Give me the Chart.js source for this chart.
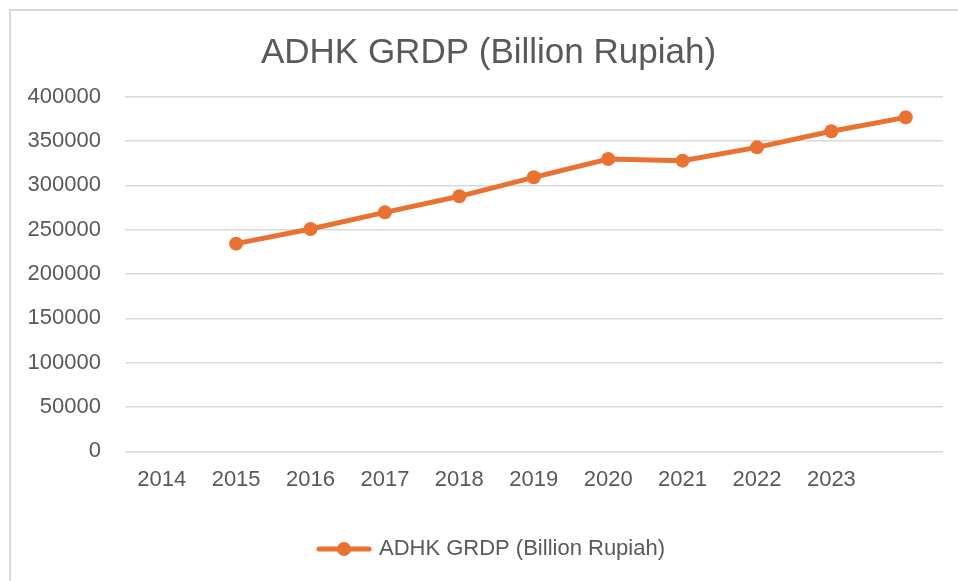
<!DOCTYPE html>
<html>
<head>
<meta charset="utf-8">
<style>
  html, body { margin: 0; padding: 0; background: #fff; overflow: hidden; }
  #frame { position: absolute; left: 9px; top: 9px; width: 1100px; height: 1100px;
           border-left: 2px solid #d9d9d9; border-top: 2px solid #d9d9d9; }
  #wrap { position: absolute; left: 0; top: 0; width: 958px; height: 581px; }
</style>
</head>
<body>
<div id="frame"></div>
<div id="wrap">
  <canvas id="grdp"></canvas>
</div>

<script src="https://cdn.jsdelivr.net/npm/chart.js"></script>

<script>
  // categories as they appear on the axis (the last slot has no label)
  const years = ['2014', '2015', '2016', '2017', '2018', '2019', '2020', '2021', '2022', '2023', ''];
  // ADHK GRDP values, billion rupiah (first slot is empty)
  const grdp = [null, 234200, 250800, 269500, 287600, 309000, 329700, 327800, 342800, 360900, 376600];
  const yTicks = [0, 50000, 100000, 150000, 200000, 250000, 300000, 350000, 400000];

  const orange = '#E97132';
  const grey = '#595959';
  const font = 'Liberation Sans, Arial, sans-serif';

  // legend marker: line with a dot in the middle
  function legendMarker() {
    const c = document.createElement('canvas');
    c.width = 56;
    c.height = 16;
    const ctx = c.getContext('2d');
    ctx.strokeStyle = orange;
    ctx.fillStyle = orange;
    ctx.lineWidth = 5;
    ctx.lineCap = 'round';
    ctx.beginPath();
    ctx.moveTo(3, 8);
    ctx.lineTo(53, 8);
    ctx.stroke();
    ctx.beginPath();
    ctx.arc(28, 8, 7, 0, Math.PI * 2);
    ctx.fill();
    return c;
  }

  // nudge title and legend to the right, like the Excel layout
  const shiftBoxes = {
    id: 'shiftBoxes',
    afterLayout(chart) {
      chart.titleBlock.left += 7;
      chart.titleBlock.right += 7;
      chart.legend.left += 11;
      chart.legend.right += 11;
    }
  };

  new Chart(document.getElementById('grdp'), {
    type: 'line',
    data: {
      labels: years,
      datasets: [{
        label: 'ADHK GRDP (Billion Rupiah)',
        data: grdp,
        borderColor: orange,
        backgroundColor: orange,
        borderWidth: 5,
        pointRadius: 7,
        pointHoverRadius: 7,
        pointBorderWidth: 0,
        tension: 0
      }]
    },
    plugins: [shiftBoxes],
    options: {
      responsive: true,
      maintainAspectRatio: false,
      animation: false,
      layout: { padding: { left: 20, right: 15, top: 0, bottom: 11 } },
      plugins: {
        title: {
          display: true,
          text: 'ADHK GRDP (Billion Rupiah)',
          color: grey,
          font: { family: font, size: 35, weight: 'normal' },
          padding: { top: 32, bottom: 22.6 }
        },
        legend: {
          position: 'bottom',
          labels: {
            color: grey,
            font: { family: font, size: 22 },
            usePointStyle: true,
            pointStyle: legendMarker(),
            pointStyleWidth: 48
          }
        },
        tooltip: { enabled: false }
      },
      scales: {
        x: {
          offset: true,
          grid: { display: false, drawTicks: false },
          border: { display: false },
          ticks: { color: grey, font: { family: font, size: 22 }, padding: 15.8, maxRotation: 0, autoSkip: false },
          afterFit: s => { s.height = 76.6; }
        },
        y: {
          min: 0,
          max: 400000,
          afterBuildTicks: s => { s.ticks = yTicks.map(v => ({ value: v })); },
          grid: { color: '#d9d9d9', lineWidth: 1.5, drawTicks: false },
          border: { display: false },
          ticks: {
            color: grey,
            font: { family: font, size: 22 },
            padding: 23.5,
            callback: v => String(v)
          },
          afterFit: s => { s.width = 104.5; }
        }
      }
    }
  });
</script>
</body>
</html>
